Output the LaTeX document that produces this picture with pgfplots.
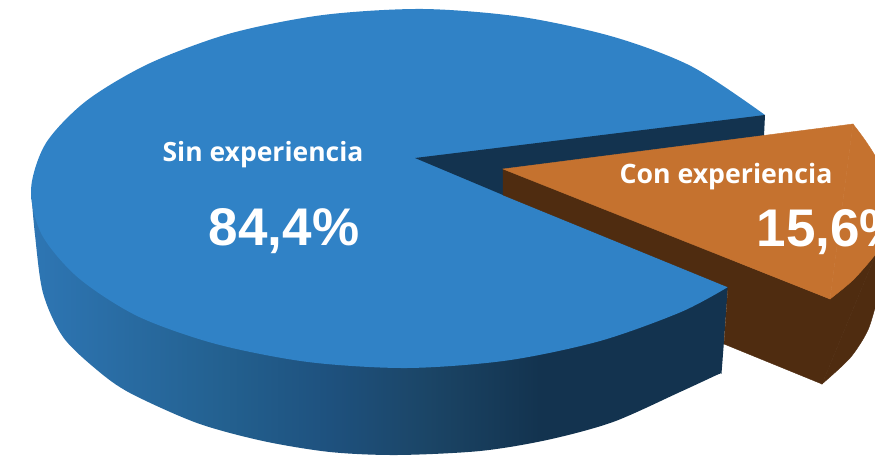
\documentclass[border=0pt]{standalone}
\usepackage{pgfplots}
\pgfplotsset{compat=1.18}
\usepackage{fontspec}
\setmainfont{Open Sans}
\newfontfamily\arialb{Liberation Sans}
\definecolor{bluetop}{HTML}{3082C6}
\definecolor{darkwall}{HTML}{13334F}
\definecolor{orangetop}{HTML}{C5722F}
\definecolor{brownwall}{HTML}{4F2C10}
\definecolor{sideA}{HTML}{2E76B4}
\definecolor{sideB}{HTML}{23608F}
\definecolor{sideC}{HTML}{1E517E}
\definecolor{sideD}{HTML}{1B4566}
\pgfdeclarehorizontalshading{sideblue}{100bp}{%
  color(0bp)=(sideA);
  color(25bp)=(sideA);
  color(39bp)=(sideB);
  color(46.4bp)=(sideC);
  color(53.5bp)=(sideD);
  color(61.5bp)=(darkwall);
  color(100bp)=(darkwall)}
\begin{document}
\begin{tikzpicture}
\useasboundingbox (0,0) rectangle (875pt,455pt);
\begin{axis}[
    at={(0,0)}, anchor=south west,
    scale only axis, width=875pt, height=455pt,
    xmin=0, xmax=875, ymin=0, ymax=455, y dir=reverse,
    hide axis,
]
% side of the big slice
\addplot[draw=none, shade, shading=sideblue, smooth] coordinates {
    (728,287) (722,367) (721,373) (716,375.3) (680,392) (613,422) (547,440) (480,451)
    (397,455) (330,452) (263,441) (197,423) (130,393) (97,370) (63,337) (43,293)
    (35,235) (31,190)
} --cycle;
% top of the big slice
\addplot[draw=none, fill=bluetop, smooth] coordinates {
    (765,115) (692,66.6) (614,37) (522,17) (423,9) (323,15) (230,33.5) (149,63.6)
    (86.5,100.75) (46,143) (31,189.5) (42,235) (78.5,278) (138,316.4) (216,344)
    (308,362) (407,368) (507,360.5) (600,341) (681,312) (728,287)
} --cycle;
% gap wall
\addplot[draw=none, fill=darkwall] coordinates {
    (415,158) (765,115) (764,136) (503,170) (503,195)
} --cycle;
% small slice side
\addplot[draw=brownwall, line width=0.4pt, fill=brownwall] coordinates {
    (503,169) (503,195) (728,287) (724,344) (822,384) (890,220) (830,299)
} --cycle;
\addplot[draw=brownwall, line width=0.4pt, fill=brownwall, smooth] coordinates {
    (822,384) (850,358) (867,332) (875,308) (883,280) (888,245) (890,220)
} --cycle;
% small slice top
\addplot[draw=orangetop, line width=0.4pt, fill=orangetop] coordinates {
    (503,169) (853,124) (830,299)
} --cycle;
\addplot[draw=orangetop, line width=0.4pt, fill=orangetop, smooth] coordinates {
    (853,124) (867,143) (880,165) (890,195) (892,220) (885,240) (875,255) (853,280) (830,299)
} --cycle;
\node[text=white, font=\fontsize{26.5}{30}\selectfont\bfseries, anchor=center] at (axis cs:263,155) {Sin experiencia};
\node[text=white, font=\fontsize{53}{60}\selectfont\arialb\bfseries, anchor=center] at (axis cs:284,231) {84,4\%};
\node[text=white, font=\fontsize{26.7}{30}\selectfont\bfseries, anchor=center] at (axis cs:726,177) {Con experiencia};
\node[text=white, font=\fontsize{53}{60}\selectfont\arialb\bfseries, anchor=west] at (axis cs:753,232) {15,6\%};
\end{axis}
\end{tikzpicture}
\end{document}
